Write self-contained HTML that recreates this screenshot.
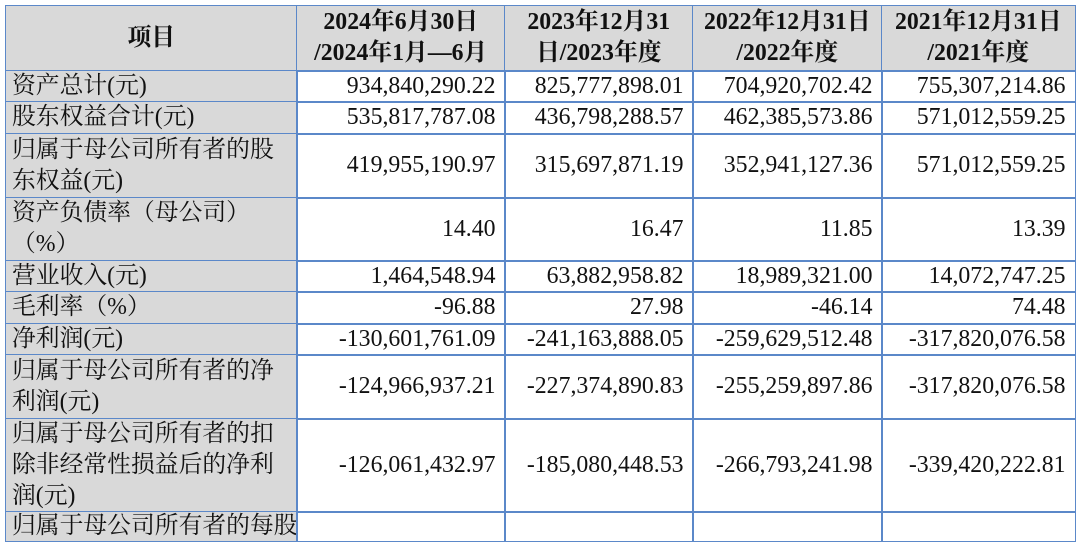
<!DOCTYPE html>
<html><head><meta charset="utf-8"><style>
body{margin:0;width:1080px;height:517px;overflow:hidden;background:#fff;font-family:"Liberation Serif","Noto Serif CJK SC",serif;}
.c{position:absolute;box-sizing:border-box;border:1.5px solid #5b88c9;font-size:23.8px;line-height:31px;color:#111;display:flex;align-items:center;white-space:nowrap;}
.l{background:#d9d9d9;padding-left:6px;}
.r{justify-content:flex-end;padding-right:9px;text-align:right;}
.h{background:#d9d9d9;font-weight:bold;justify-content:center;text-align:center;}
</style></head><body>
<div id="t"></div>
<script>
const cols=[5,296,504,692,881,1074];
const rows=[5,70,101,133,197,260,291,323,354,418,511,540];
const head=["项目","2024年6月30日<br>/2024年1月—6月","2023年12月31<br>日/2023年度","2022年12月31日<br>/2022年度","2021年12月31日<br>/2021年度"];
const labels=["资产总计(元)","股东权益合计(元)","归属于母公司所有者的股<br>东权益(元)","资产负债率（母公司）<br>（%）","营业收入(元)","毛利率（%）","净利润(元)","归属于母公司所有者的净<br>利润(元)","归属于母公司所有者的扣<br>除非经常性损益后的净利<br>润(元)","归属于母公司所有者的每股"];
const vals=[
["934,840,290.22","825,777,898.01","704,920,702.42","755,307,214.86"],
["535,817,787.08","436,798,288.57","462,385,573.86","571,012,559.25"],
["419,955,190.97","315,697,871.19","352,941,127.36","571,012,559.25"],
["14.40","16.47","11.85","13.39"],
["1,464,548.94","63,882,958.82","18,989,321.00","14,072,747.25"],
["-96.88","27.98","-46.14","74.48"],
["-130,601,761.09","-241,163,888.05","-259,629,512.48","-317,820,076.58"],
["-124,966,937.21","-227,374,890.83","-255,259,897.86","-317,820,076.58"],
["-126,061,432.97","-185,080,448.53","-266,793,241.98","-339,420,222.81"],
["","","",""]];
const t=document.getElementById('t');
function cell(r,c,html,cls,name){
  const d=document.createElement('div');
  d.className='c '+cls;
  d.style.left=cols[c]+'px';d.style.top=rows[r]+'px';
  d.style.width=(cols[c+1]-cols[c]+1.5)+'px';d.style.height=(rows[r+1]-rows[r]+1.5)+'px';
  d.innerHTML=html;
  
  
  t.appendChild(d);
}
head.forEach((h,i)=>cell(0,i,h,'h','header-'+i));
labels.forEach((lb,r)=>{
  cell(r+1,0,lb,'l','row-label-'+(r+1));
  vals[r].forEach((v,c)=>cell(r+1,c+1,v,'r','value-r'+(r+1)+'-c'+(c+1)));
});
</script>
</body></html>
